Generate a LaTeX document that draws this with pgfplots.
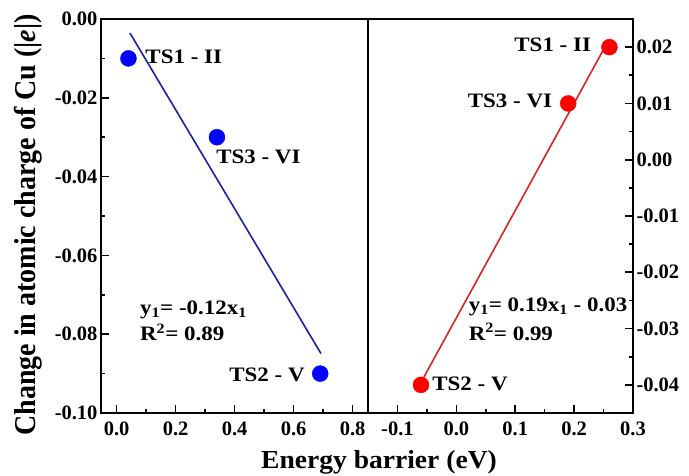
\documentclass[border=0pt]{standalone}
\usepackage{fontspec}
\setmainfont{Liberation Serif}
\usepackage{graphicx}
\usepackage{pgfplots}
\pgfplotsset{compat=1.18}
\definecolor{bluept}{RGB}{0,0,255}
\definecolor{blueline}{RGB}{30,30,165}
\definecolor{redpt}{RGB}{255,0,0}
\definecolor{redline}{RGB}{220,35,35}
\newcommand{\sx}[1]{\scalebox{1.12}[1]{#1}}
\tikzset{lab/.style={font=\bfseries\fontsize{20.5}{24}\selectfont, inner sep=0pt}}
\begin{document}
\begin{tikzpicture}
\path[use as bounding box] (-101pt,-62pt) rectangle (588pt,413pt);
\pgfplotsset{
  common/.style={
    scale only axis, height=394pt,
    tick align=inside,
    axis line style={line width=2pt},
    major tick length=8pt, minor tick length=4.5pt,
    every tick/.append style={line width=1.6pt, black},
    minor x tick num=1, minor y tick num=1,
    xtick pos=bottom,
    scaled x ticks=false, scaled y ticks=false,
    tick label style={font=\bfseries\fontsize{20.5}{24}\selectfont},
    xticklabel style={yshift=-5pt},
    /pgf/number format/assume math mode=true,
    clip=false,
  },
  p1/.style={/pgf/number format/fixed, /pgf/number format/fixed zerofill, /pgf/number format/precision=1},
  p2/.style={/pgf/number format/fixed, /pgf/number format/fixed zerofill, /pgf/number format/precision=2},
}
\begin{axis}[common, at={(0pt,0pt)}, anchor=south west, width=267pt,
  xmin=-0.053, xmax=0.852, ymin=-0.1, ymax=0,
  xtick={0,0.2,0.4,0.6,0.8}, ytick={-0.1,-0.08,-0.06,-0.04,-0.02,0},
  ytick pos=left,
  xticklabel style={p1},
  yticklabel style={p2},
]
\addplot[blueline, line width=1.6pt] coordinates {(0.045,-0.00355) (0.6925,-0.0849)};
\addplot[only marks, mark=*, mark size=8pt, color=bluept] coordinates {(0.04,-0.01) (0.34,-0.03) (0.69,-0.09)};
\node[lab, anchor=west] at (axis cs:0.097,-0.0095) {\sx{TS1 - II}};
\node[lab, anchor=west] at (axis cs:0.337,-0.0349) {\sx{TS3 - VI}};
\node[lab, anchor=east] at (axis cs:0.638,-0.0903) {\sx{TS2 - V}};
\node[lab, anchor=west] at (axis cs:0.079,-0.0738) {\sx{y\textsubscript{1}= -0.12x\textsubscript{1}}};
\node[lab, anchor=west] at (axis cs:0.079,-0.0796) {\sx{R\textsuperscript{2}= 0.89}};
\end{axis}
\begin{axis}[common, at={(267pt,0pt)}, anchor=south west, width=265pt,
  xmin=-0.15, xmax=0.3, ymin=-0.045, ymax=0.025,
  xtick={-0.1,0,0.1,0.2,0.3}, ytick={-0.04,-0.03,-0.02,-0.01,0,0.01,0.02},
  ytick pos=right, yticklabel pos=right,
  xticklabel style={p1},
  yticklabel style={p2},
]
\addplot[redline, line width=1.6pt] coordinates {(-0.055,-0.0386) (0.258,0.0211)};
\addplot[only marks, mark=*, mark size=8pt, color=redpt] coordinates {(-0.06,-0.04) (0.19,0.01) (0.26,0.02)};
\node[lab, anchor=east] at (axis cs:0.229,0.0205) {\sx{TS1 - II}};
\node[lab, anchor=east] at (axis cs:0.163,0.0104) {\sx{TS3 - VI}};
\node[lab, anchor=west] at (axis cs:-0.041,-0.0398) {\sx{TS2 - V}};
\node[lab, anchor=west] at (axis cs:0.0208,-0.02615) {\sx{y\textsubscript{1}= 0.19x\textsubscript{1} - 0.03}};
\node[lab, anchor=west] at (axis cs:0.0208,-0.0306) {\sx{R\textsuperscript{2}= 0.99}};
\end{axis}
\node[rotate=90, font=\bfseries\fontsize{28}{30}\selectfont] at (-72.5pt,188pt) {\scalebox{1}[1.08]{Change in atomic charge of Cu (|\textit{e}|)}};
\node[anchor=base, font=\bfseries\fontsize{26}{30}\selectfont] at (278pt,-55pt) {\scalebox{1.06}[1]{Energy barrier (eV)}};
\end{tikzpicture}
\end{document}
